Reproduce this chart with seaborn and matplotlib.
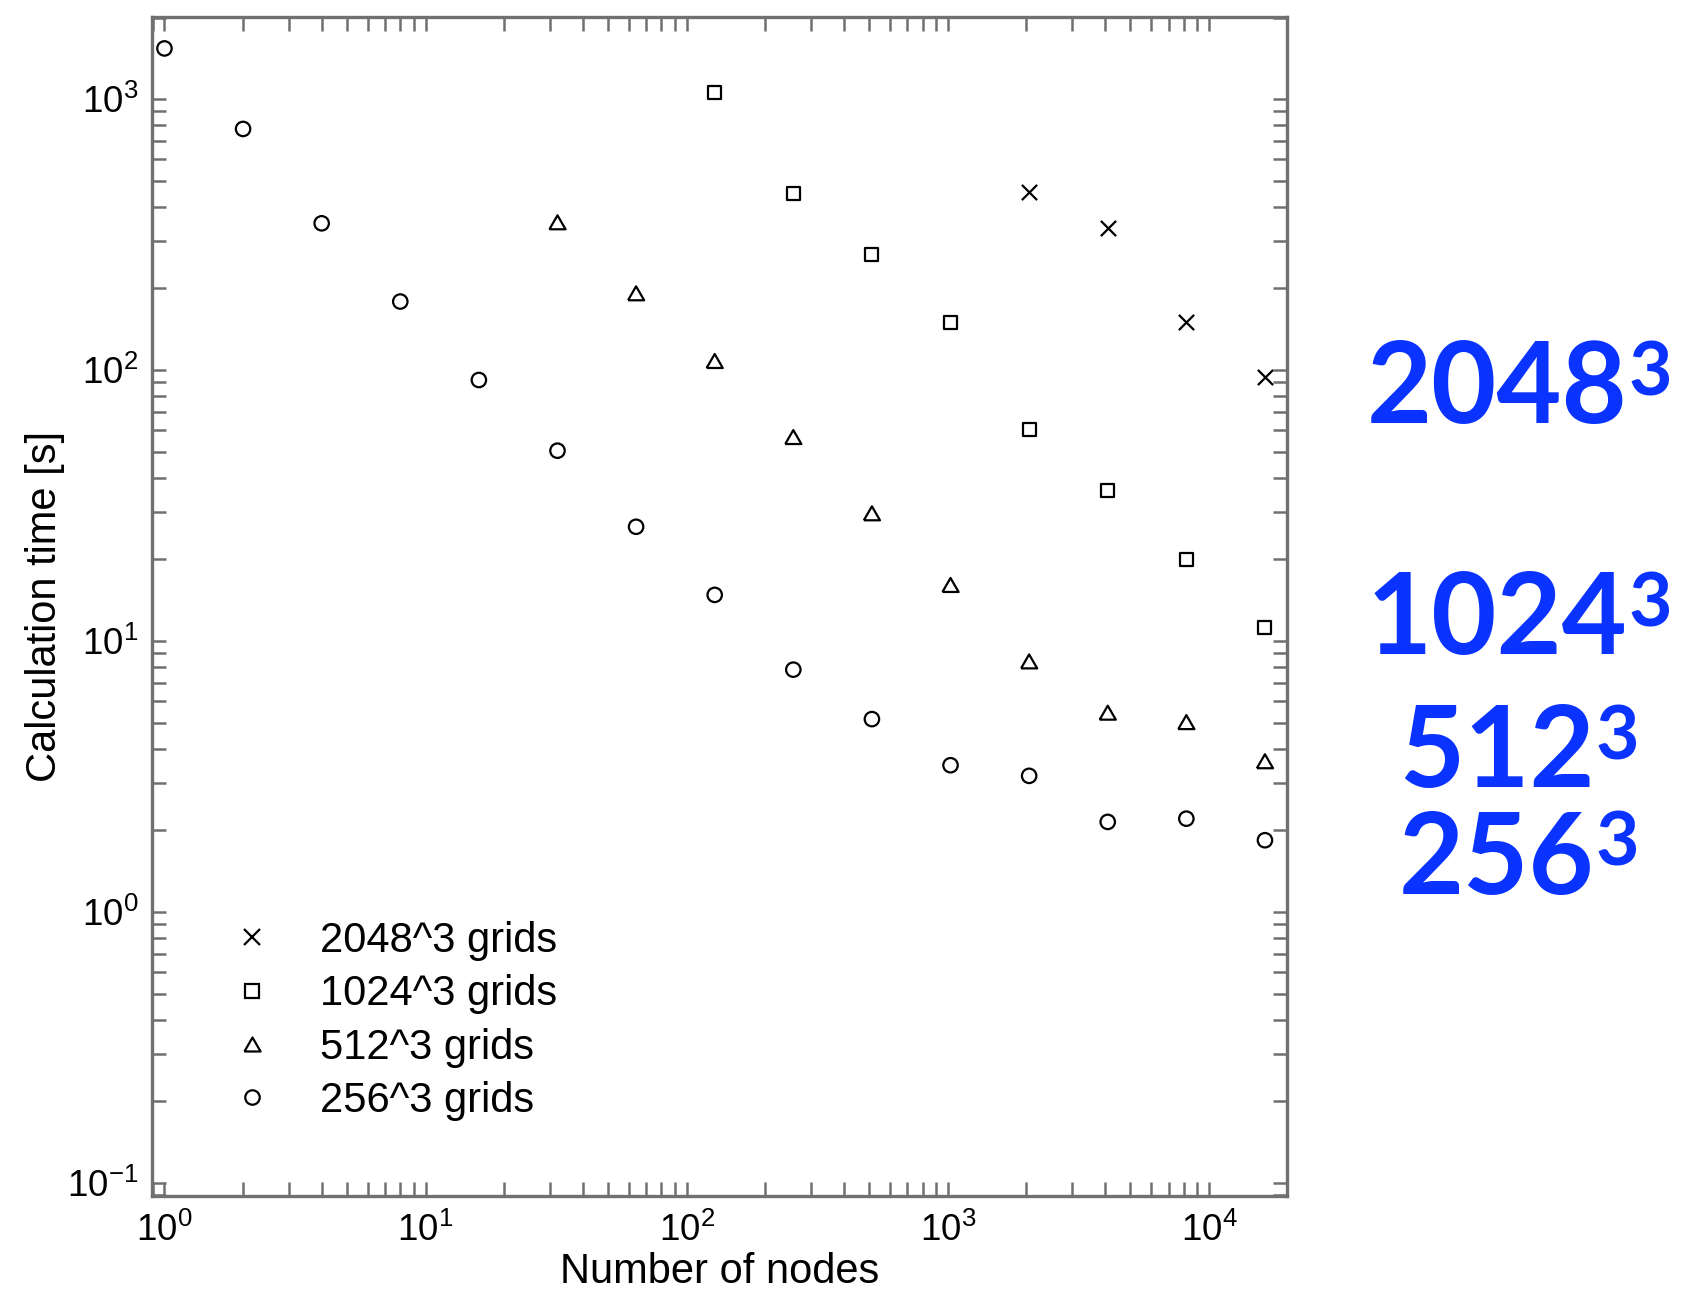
import matplotlib
matplotlib.use("Agg")
import matplotlib.pyplot as plt
from matplotlib.lines import Line2D
from matplotlib.ticker import LogLocator, LogFormatterSciNotation, NullFormatter
import numpy as np
import seaborn as sns

# ── Data ─────────────────────────────────────────────────────────────────────
nodes_2048 = [2048, 4096, 8192, 16384]
time_2048 = [454, 334, 150, 94.3]

nodes_1024 = [128, 256, 512, 1024, 2048, 4096, 8192, 16384]
time_1024 = [1059, 449, 267, 150, 60.4, 35.9, 20.0, 11.2]

nodes_512 = [32, 64, 128, 256, 512, 1024, 2048, 4096, 8192, 16384]
time_512 = [351, 192, 108, 56.6, 29.6, 16.1, 8.41, 5.44, 5.02, 3.60]

nodes_256 = [1, 2, 4, 8, 16, 32, 64, 128, 256, 512, 1024, 2048, 4096, 8192, 16384]
time_256 = [1538, 776, 348, 179, 91.9, 50.4, 26.4, 14.8, 7.84, 5.15, 3.48, 3.18, 2.15, 2.21, 1.84]

legend_labels = ["2048^3 grids", "1024^3 grids", "512^3 grids", "256^3 grids"]
side_bases = ["2048", "1024", "512", "256"]
side_exponent = "3"

# ── Aesthetics ────────────────────────────────────────────────────────────────
sns.set_style("white")
plt.rcParams["font.family"] = ["Liberation Sans", "DejaVu Sans"]
plt.rcParams["mathtext.fontset"] = "custom"
plt.rcParams["mathtext.rm"] = "Liberation Sans"
plt.rcParams["axes.unicode_minus"] = False
plt.rcParams["text.color"] = "black"
plt.rcParams["axes.labelcolor"] = "black"

AXIS_GRAY = "#707070"
BLUE = "#0A33FF"
TRI = [(-1, -0.866), (1, -0.866), (0, 0.866), (-1, -0.866)]   # closed equilateral triangle
LW = 1.6

series = [
    (nodes_2048, time_2048, "x", 120),
    (nodes_1024, time_1024, "s", 88),
    (nodes_512, time_512, TRI, 135),
    (nodes_256, time_256, "o", 108),
]

W, H = 1683, 1290
fig = plt.figure(figsize=(W / 100, H / 100), dpi=100)
ax = fig.add_axes([152 / W, 1 - 1196 / H, (1287 - 152) / W, (1196 - 17) / H])

handles = []
for (xs, ys, marker, size), label in zip(series, legend_labels):
    if marker == "x":
        sns.scatterplot(x=xs, y=ys, marker="x", s=size, color="black",
                        linewidth=LW, ax=ax, zorder=3)
        h = Line2D([], [], ls="none", marker="x", ms=np.sqrt(size),
                   color="black", mew=LW)
    else:
        sns.scatterplot(x=xs, y=ys, marker=marker, s=size, fc="none",
                        ec="black", linewidth=LW, ax=ax, zorder=3)
        h = Line2D([], [], ls="none", marker=marker, ms=np.sqrt(size),
                   mfc="none", mec="black", mew=LW)
    handles.append(h)

ax.set_xscale("log")
ax.set_yscale("log")
ax.set_xlim(0.896, 19900)
ax.set_ylim(0.0895, 2009)

for axis in (ax.xaxis, ax.yaxis):
    axis.set_major_locator(LogLocator(base=10, numticks=20))
    axis.set_minor_locator(LogLocator(base=10, subs=np.arange(2, 10), numticks=100))
    axis.set_major_formatter(LogFormatterSciNotation())
    axis.set_minor_formatter(NullFormatter())

ax.tick_params(which="both", direction="in", bottom=True, left=True,
               top=True, right=True, length=10, width=1.8,
               color=AXIS_GRAY, labelcolor="black", labelsize=26.5)
ax.tick_params(axis="x", which="both", pad=12)
ax.tick_params(axis="y", which="both", pad=10)

for sp in ax.spines.values():
    sp.set_color(AXIS_GRAY)
    sp.set_linewidth(2.4)

ax.set_xlabel("Number of nodes", fontsize=30, labelpad=2, color="black")
ax.set_ylabel("Calculation time [s]", fontsize=30, labelpad=1, color="black")

leg = ax.legend(handles, legend_labels, loc="upper left",
                bbox_to_anchor=(231 / W, 1 - 921 / H), bbox_transform=fig.transFigure,
                frameon=False, fontsize=30, handlelength=1.0, handletextpad=1.13,
                labelspacing=0.32, borderpad=0, borderaxespad=0)
for t in leg.get_texts():
    t.set_color("black")

# big blue resolution labels to the right of the axes (base + superscript)
side_baseline = [423, 654, 787, 894]    # pixel rows of the baselines
center_x = 1519
gap = 1
renderer = fig.canvas.get_renderer()
for base, yb in zip(side_bases, side_baseline):
    t1 = fig.text(0, 1 - yb / H, base, ha="left", va="baseline", fontsize=81,
                  fontweight="bold", family="Lato", color=BLUE)
    t2 = fig.text(0, 1 - (yb - 28) / H, side_exponent, ha="left", va="baseline",
                  fontsize=54, fontweight="bold", family="Lato", color=BLUE)
    w1 = t1.get_window_extent(renderer).width
    w2 = t2.get_window_extent(renderer).width
    left = center_x - (w1 + gap + w2) / 2
    t1.set_x(left / W)
    t2.set_x((left + w1 + gap) / W)

fig.savefig("out.png", dpi=100)
plt.close(fig)
